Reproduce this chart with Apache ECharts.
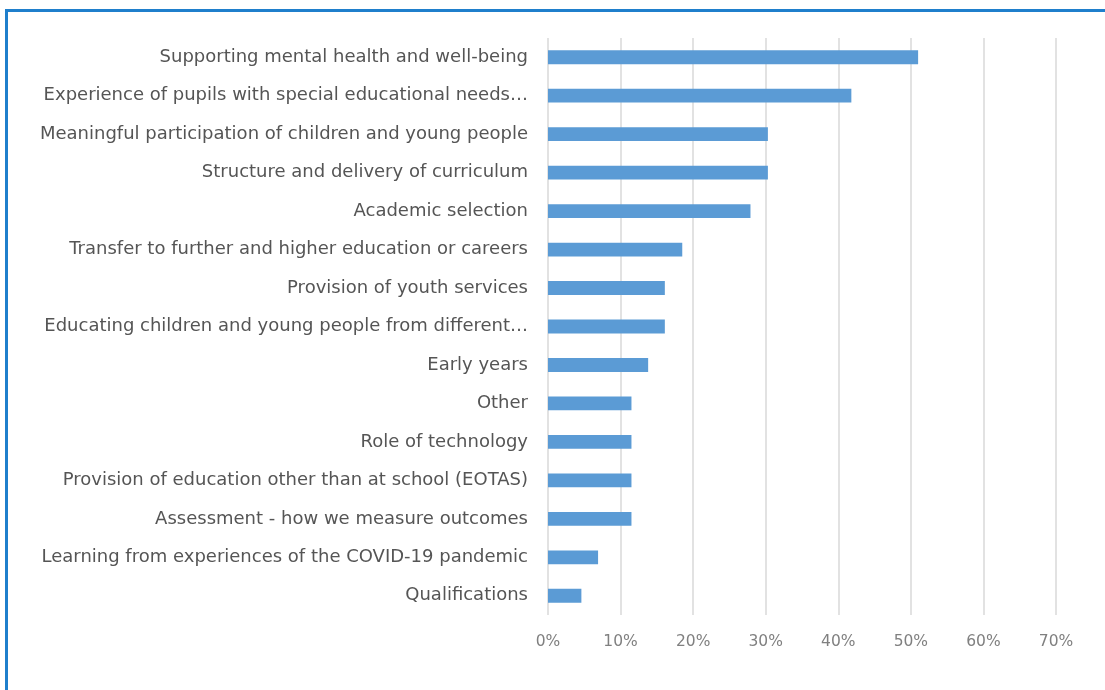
<!DOCTYPE html>
<html>
<head>
<meta charset="utf-8">
<script src="https://cdn.jsdelivr.net/npm/echarts@6/dist/echarts.min.js"></script>
<style>
  html, body { margin: 0; padding: 0; background: #ffffff; }
  #wrap { position: relative; width: 1105px; height: 690px; overflow: hidden; background: #fff; }
  #frame { position: absolute; left: 5px; top: 9px; width: 1200px; height: 800px;
           border-top: 3px solid #1f7fcc; border-left: 3px solid #1f7fcc; box-sizing: border-box; }
  #chart { position: absolute; left: 0; top: 0; width: 1105px; height: 690px; }
</style>
</head>
<body>
<div id="wrap">
  <div id="frame"></div>
  <div id="chart"></div>
</div>
<script>
// Topics, top to bottom
const categories = [
  "Supporting mental health and well-being",
  "Experience of pupils with special educational needs\u2026",
  "Meaningful participation of children and young people",
  "Structure and delivery of curriculum",
  "Academic selection",
  "Transfer to further and higher education or careers",
  "Provision of youth services",
  "Educating children and young people from different\u2026",
  "Early years",
  "Other",
  "Role of technology",
  "Provision of education other than at school (EOTAS)",
  "Assessment - how we measure outcomes",
  "Learning from experiences of the COVID-19 pandemic",
  "Qualifications"
];

// Share of responses (%)
const shares = [51.0, 41.8, 30.3, 30.3, 27.9, 18.5, 16.1, 16.1, 13.8, 11.5, 11.5, 11.5, 11.5, 6.9, 4.6];

// Value axis ticks (%)
const tickValues = [0, 10, 20, 30, 40, 50, 60, 70];

const chart = echarts.init(document.getElementById('chart'), null, { renderer: 'canvas' });
const labelFont = '"DejaVu Sans", "Open Sans", sans-serif';

chart.setOption({
  backgroundColor: 'transparent',
  animation: false,
  grid: { left: 548, right: 49, top: 38, bottom: 75, containLabel: false },
  xAxis: {
    type: 'value',
    min: tickValues[0],
    max: tickValues[tickValues.length - 1],
    interval: 10,
    axisLine: { show: false },
    axisTick: { show: false },
    splitLine: { show: true, lineStyle: { color: '#d9d9d9', width: 1.5 } },
    axisLabel: {
      formatter: v => v + '%',
      color: '#808080',
      fontFamily: labelFont,
      fontSize: 15.5,
      margin: 19
    }
  },
  yAxis: {
    type: 'category',
    data: categories,
    inverse: true,
    axisLine: { show: false },
    axisTick: { show: false },
    splitLine: { show: false },
    axisLabel: {
      color: '#555555',
      fontFamily: labelFont,
      fontSize: 18,
      margin: 20,
      overflow: 'none'
    }
  },
  series: [{
    type: 'bar',
    data: shares,
    barCategoryGap: '64%',
    itemStyle: { color: '#5b9bd5' }
  }]
});
</script>
</body>
</html>
